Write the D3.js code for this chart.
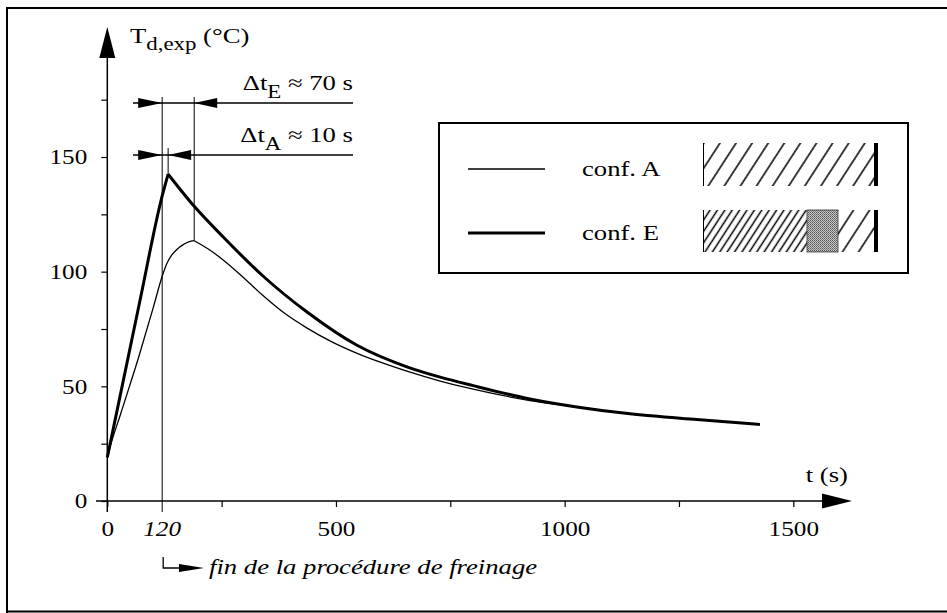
<!DOCTYPE html>
<html><head><meta charset="utf-8">
<script src="https://cdn.jsdelivr.net/npm/d3@7"></script>
<style>
html,body{margin:0;padding:0;background:#fff;}
svg text{font-family:"Liberation Serif","Times New Roman",Times,serif !important;fill:#000;}
</style></head>
<body><svg id="c" width="947" height="613"></svg>
<script>
// ---- data ----
const xTicks = [0, 250, 500, 750, 1000, 1250, 1500];
const xTickLabels = [0, 500, 1000, 1500];
const yTicks = [0, 25, 50, 75, 100, 125, 150, 175];
const yTickLabels = [0, 50, 100, 150];
const tEndBraking = 120;          // fin de la procédure de freinage
const tPeakE = 133, tPeakA = 190; // peaks used by the Δt markers
const TPeakE = 142.5, TPeakA = 113.5;

// conf. A (thin line): rise and decay
const confA_rise_t = [0, 6, 30, 69, 100, 120, 130, 140, 152, 166, 178, 190];
const confA_rise_T = [19, 23.5, 38.5, 63, 84, 98, 103.5, 107, 109.7, 111.8, 113, 113.5];
const confA_decay_t = [190, 220, 254, 300, 341, 390, 436, 490, 545, 600, 655, 728, 800, 924, 1034, 1143, 1289, 1427];
const confA_decay_T = [113.5, 110, 105, 97, 89.5, 81.5, 75.5, 69.5, 64.5, 60.3, 56.6, 52.3, 48.8, 43.8, 40.8, 38, 35.5, 33.4];

// conf. E (thick line): rise and decay
const confE_rise_t = [0, 70, 120, 133];
const confE_rise_T = [19, 86, 133, 142.5];
const confE_decay_t = [133, 190, 254, 341, 436, 545, 655, 728, 800, 924, 1034, 1143, 1289, 1427];
const confE_decay_T = [142.5, 128.5, 115, 98, 82.5, 68, 58.5, 54, 50.3, 44.5, 40.8, 38, 35.5, 33.4];

const legendLabels = ["conf. A", "conf. E"];

// ---- drawing ----
const svg = d3.select("#c");
const x = d3.scaleLinear().domain([0, 1500]).range([107.3, 793.3]);
const y = d3.scaleLinear().domain([0, 150]).range([501, 157]);
const FS = 21, SUB = 18, SX_NUM = 1.2, SX_TXT = 1.27;

// outer frame
svg.append("path").attr("d", "M7,613 L7,8 L947,8 M7,611.5 L947,611.5")
  .attr("fill", "none").attr("stroke", "#000").attr("stroke-width", 2);

// defs: hatches
const defs = svg.append("defs");
function hatch(id, w) {
  const p = defs.append("pattern").attr("id", id).attr("patternUnits", "userSpaceOnUse")
    .attr("width", w).attr("height", 40).attr("patternTransform", "rotate(33)");
  p.append("line").attr("x1", w / 2).attr("x2", w / 2).attr("y1", 0).attr("y2", 40)
    .attr("stroke", "#000").attr("stroke-width", 1.5);
}
hatch("hs", 13.5);
hatch("hd", 6.2);
const st = defs.append("pattern").attr("id", "stip").attr("patternUnits", "userSpaceOnUse")
  .attr("width", 2).attr("height", 2);
st.append("rect").attr("width", 2).attr("height", 2).attr("fill", "#c8c8c8");
st.append("rect").attr("width", 1).attr("height", 1).attr("fill", "#555");
st.append("rect").attr("x", 1).attr("y", 1).attr("width", 1).attr("height", 1).attr("fill", "#777");

function tri(tipX, tipY, dir, len, hw) { // dir: 'r','l','u'
  let pts;
  if (dir === "r") pts = [[tipX, tipY], [tipX - len, tipY - hw], [tipX - len, tipY + hw]];
  else if (dir === "l") pts = [[tipX, tipY], [tipX + len, tipY - hw], [tipX + len, tipY + hw]];
  else pts = [[tipX, tipY], [tipX - hw, tipY + len], [tipX + hw, tipY + len]];
  svg.append("path").attr("d", "M" + pts.join("L") + "Z").attr("fill", "#000");
}

// y axis
const yAx = svg.append("g").attr("transform", `translate(${x(0)},0)`)
  .call(d3.axisLeft(y).tickValues(yTicks).tickSize(6).tickPadding(14)
    .tickFormat(d => yTickLabels.includes(d) ? d : ""));
yAx.attr("font-family", null);
yAx.select(".domain").remove();
yAx.selectAll("line").attr("stroke", "#000").attr("stroke-width", 1.2);
yAx.selectAll("text").attr("font-size", FS).classed("num", true);
svg.append("line").attr("x1", x(0)).attr("x2", x(0)).attr("y1", 512).attr("y2", 50)
  .attr("stroke", "#000").attr("stroke-width", 1.5);
tri(x(0), 27, "u", 31, 8);

// x axis
const xAx = svg.append("g").attr("transform", `translate(0,${y(0)})`)
  .call(d3.axisBottom(x).tickValues(xTicks).tickSize(6).tickPadding(14)
    .tickFormat(d => xTickLabels.includes(d) ? d : ""));
xAx.attr("font-family", null);
xAx.select(".domain").remove();
xAx.selectAll("line").attr("stroke", "#000").attr("stroke-width", 1.2);
xAx.selectAll("text").attr("font-size", FS).classed("num", true);
svg.append("line").attr("x1", 96).attr("x2", 830).attr("y1", y(0)).attr("y2", y(0))
  .attr("stroke", "#000").attr("stroke-width", 1.5);
tri(852, y(0), "r", 30, 7.5);

// 120 label
svg.append("text").attr("class", "num").attr("x", x(tEndBraking)).attr("y", 536).attr("text-anchor", "middle")
  .attr("font-size", FS).attr("font-style", "italic").text(tEndBraking);

// axis titles
const yt = svg.append("text").attr("x", 130).attr("y", 43).attr("font-size", FS);
yt.append("tspan").text("T");
yt.append("tspan").attr("dy", 7).attr("font-size", SUB).text("d,exp");
yt.append("tspan").attr("dy", -7).text(" (°C)");
svg.append("text").attr("x", 848).attr("y", 482).attr("text-anchor", "end")
  .attr("font-size", FS).text("t (s)");

// vertical markers
svg.append("line").attr("x1", x(tEndBraking)).attr("x2", x(tEndBraking)).attr("y1", 97).attr("y2", 512)
  .attr("stroke", "#000").attr("stroke-width", 1);
svg.append("line").attr("x1", x(tPeakA)).attr("x2", x(tPeakA)).attr("y1", 97).attr("y2", y(TPeakA))
  .attr("stroke", "#000").attr("stroke-width", 1);
svg.append("line").attr("x1", x(tPeakE)).attr("x2", x(tPeakE)).attr("y1", 148).attr("y2", y(TPeakE))
  .attr("stroke", "#000").attr("stroke-width", 1);

// Δt markers
function dimLine(yy, tA, tB, sub, rest, baseY) {
  svg.append("line").attr("x1", 133).attr("x2", 353).attr("y1", yy).attr("y2", yy)
    .attr("stroke", "#000").attr("stroke-width", 1.3);
  tri(x(tA), yy, "r", 24, 5);
  tri(x(tB), yy, "l", 23, 5);
  const t = svg.append("text").attr("x", 353).attr("y", baseY).attr("text-anchor", "end").attr("font-size", FS);
  t.append("tspan").text("Δt");
  t.append("tspan").attr("dy", 8).attr("font-size", SUB).text(sub);
  t.append("tspan").attr("dy", -8).text(rest);
}
dimLine(103, tEndBraking, tPeakA, "E", " ≈ 70 s", 90);
dimLine(155, tEndBraking, tPeakE, "A", " ≈ 10 s", 142);

// curves
const lineGen = d3.line().x(d => x(d[0])).y(d => y(d[1])).curve(d3.curveMonotoneX);
function pairs(ts, Ts) { return ts.map((t, i) => [t, Ts[i]]); }
function drawSeries(rt, rT, dt, dT, w) {
  svg.append("path").attr("d", lineGen(pairs(rt, rT))).attr("fill", "none")
    .attr("stroke", "#000").attr("stroke-width", w);
  svg.append("path").attr("d", lineGen(pairs(dt, dT))).attr("fill", "none")
    .attr("stroke", "#000").attr("stroke-width", w);
}
drawSeries(confA_rise_t, confA_rise_T, confA_decay_t, confA_decay_T, 1.3);
drawSeries(confE_rise_t, confE_rise_T, confE_decay_t, confE_decay_T, 3);

// braking annotation
svg.append("path").attr("d", `M${x(tEndBraking) + 1},557 L${x(tEndBraking) + 1},568 L185,568`)
  .attr("fill", "none").attr("stroke", "#000").attr("stroke-width", 1.3);
tri(204, 568, "r", 25, 4);
svg.append("text").attr("x", 209).attr("y", 574).attr("font-size", FS).attr("font-style", "italic")
  .text("fin de la procédure de freinage");

// legend
const lg = svg.append("g");
lg.append("rect").attr("x", 439).attr("y", 123).attr("width", 469).attr("height", 150)
  .attr("fill", "#fff").attr("stroke", "#000").attr("stroke-width", 2);
const rowY = [169, 233], rowW = [1.3, 3];
legendLabels.forEach((lab, i) => {
  lg.append("line").attr("x1", 468).attr("x2", 545).attr("y1", rowY[i]).attr("y2", rowY[i])
    .attr("stroke", "#000").attr("stroke-width", rowW[i]);
  lg.append("text").attr("x", 582).attr("y", rowY[i] + 7).attr("font-size", FS).text(lab);
});
lg.append("rect").attr("x", 703).attr("y", 143).attr("width", 173).attr("height", 43).attr("fill", "url(#hs)");
lg.append("rect").attr("x", 703).attr("y", 210).attr("width", 104).attr("height", 42).attr("fill", "url(#hd)");
lg.append("rect").attr("x", 807).attr("y", 210).attr("width", 31).attr("height", 42).attr("fill", "url(#stip)")
  .attr("stroke", "#333").attr("stroke-width", 0.8);
lg.append("rect").attr("x", 838).attr("y", 210).attr("width", 38).attr("height", 42).attr("fill", "url(#hs)");
[[143, 186], [210, 252]].forEach(([a, b]) => {
  lg.append("line").attr("x1", 703.5).attr("x2", 703.5).attr("y1", a).attr("y2", b).attr("stroke", "#000").attr("stroke-width", 1);
  lg.append("line").attr("x1", 876).attr("x2", 876).attr("y1", a).attr("y2", b).attr("stroke", "#000").attr("stroke-width", 4);
});

// the scanned original has slightly wide lettering: stretch text horizontally about its anchor
svg.selectAll("text").each(function () {
  const t = d3.select(this);
  const xx = +t.attr("x") || 0;
  const s = t.classed("num") ? SX_NUM : SX_TXT;
  t.attr("transform", `translate(${xx},0) scale(${s},1) translate(${-xx},0)`);
});
</script></body></html>
